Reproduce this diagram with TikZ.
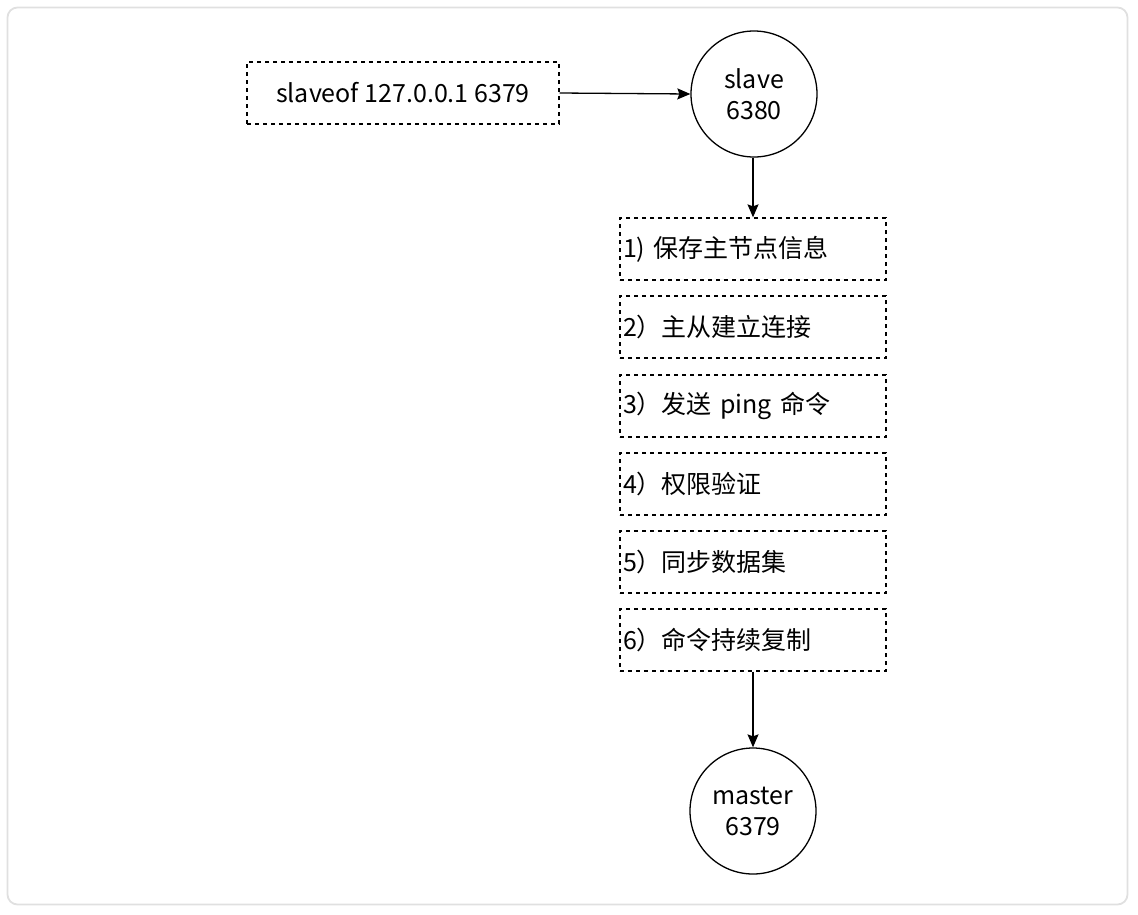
\documentclass[tikz,border=0pt]{standalone}
\usepackage{fontspec}
\setmainfont{Noto Sans CJK SC}
\usetikzlibrary{arrows.meta}
\begin{document}
\begin{tikzpicture}[x=1pt,y=-1pt,
  every node/.style={font=\fontsize{25}{31}\selectfont},
  dbox/.style={draw, line width=1.3pt, dash pattern=on 4pt off 4pt, minimum height=62pt, inner sep=0pt},
  stepbox/.style={dbox, minimum width=266pt, text width=260pt, align=left},
  circ/.style={draw, circle, line width=1.3pt, minimum size=126pt, inner sep=0pt, align=center},
  arr/.style={-{Stealth[length=13pt,width=11pt,inset=2pt]}, line width=1.3pt}
]
\useasboundingbox (0,0) rectangle (1138,914);
\draw[line width=1.8pt, color=black!12, rounded corners=10pt] (7.5,7.5) rectangle (1127.5,904.5);

\node[dbox, minimum width=312pt] (cmd) at (403,93) {slaveof 127.0.0.1 6379};
\node[circ] (slave) at (754,94) {slave\\6380};
\node[stepbox] (s1) at (753,249) {1) 保存主节点信息};
\node[stepbox] (s2) at (753,327) {2）主从建立连接};
\node[stepbox] (s3) at (753,406) {3）发送 ping 命令};
\node[stepbox] (s4) at (753,484) {4）权限验证};
\node[stepbox] (s5) at (753,562) {5）同步数据集};
\node[stepbox] (s6) at (753,640) {6）命令持续复制};
\node[circ] (master) at (753,811) {master\\6379};

\draw[arr] (cmd.east) -- (slave.west);
\draw[arr] (slave.south -| s1.north) -- (s1.north);
\draw[arr] (s6.south) -- (master.north);
\end{tikzpicture}
\end{document}
